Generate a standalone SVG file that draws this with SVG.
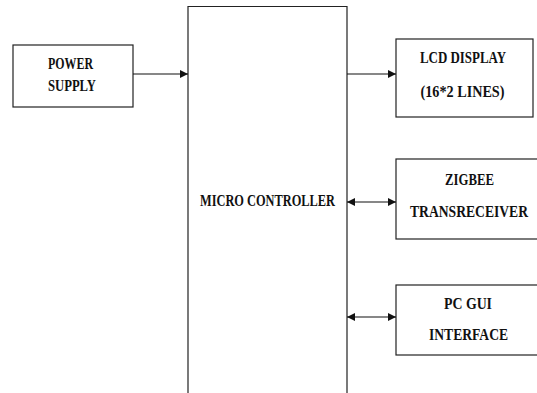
<svg xmlns="http://www.w3.org/2000/svg" width="537" height="393" viewBox="0 0 537 393">
<style>
.box{fill:#fff;stroke:#222;stroke-width:1.2}
.lbl{font-family:"Liberation Serif","Times New Roman",serif;font-weight:bold;font-size:16px;fill:#111;text-anchor:middle}
.con{stroke:#111;stroke-width:1.2;fill:none}
</style>
<defs>
<marker id="ah" viewBox="0 0 10 10" refX="10" refY="5" markerWidth="8" markerHeight="8" markerUnits="userSpaceOnUse" orient="auto-start-reverse">
<path d="M0,0 L10,5 L0,10 z" fill="#111"/>
</marker>
</defs>
<g id="mcu">
<path class="box" d="M188,400 L188,6.5 L347,6.5 L347,400"/>
<text class="lbl" x="267.5" y="206" textLength="135" lengthAdjust="spacingAndGlyphs">MICRO CONTROLLER</text>
</g>
<g id="power">
<rect class="box" x="13" y="45" width="120" height="62"/>
<text class="lbl" x="70.5" y="69" textLength="45" lengthAdjust="spacingAndGlyphs">POWER</text>
<text class="lbl" x="72" y="91" textLength="48" lengthAdjust="spacingAndGlyphs">SUPPLY</text>
</g>
<g id="lcd">
<rect class="box" x="396" y="39" width="137" height="78"/>
<text class="lbl" x="463" y="63" textLength="86" lengthAdjust="spacingAndGlyphs">LCD DISPLAY</text>
<text class="lbl" x="462.5" y="97" textLength="84" lengthAdjust="spacingAndGlyphs">(16*2 LINES)</text>
</g>
<g id="zigbee">
<rect class="box" x="396" y="159" width="145" height="80"/>
<text class="lbl" x="469.5" y="185" textLength="49" lengthAdjust="spacingAndGlyphs">ZIGBEE</text>
<text class="lbl" x="469" y="217" textLength="118" lengthAdjust="spacingAndGlyphs">TRANSRECEIVER</text>
</g>
<g id="pcgui">
<rect class="box" x="396" y="285" width="145" height="70"/>
<text class="lbl" x="468" y="309" textLength="48" lengthAdjust="spacingAndGlyphs">PC GUI</text>
<text class="lbl" x="468.5" y="340" textLength="79" lengthAdjust="spacingAndGlyphs">INTERFACE</text>
</g>
<g id="connectors">
<line class="con" x1="133" y1="74" x2="188" y2="74" marker-end="url(#ah)"/>
<line class="con" x1="347" y1="74" x2="396" y2="74" marker-end="url(#ah)"/>
<line class="con" x1="347" y1="202" x2="396" y2="202" marker-start="url(#ah)" marker-end="url(#ah)"/>
<line class="con" x1="347" y1="317" x2="396" y2="317" marker-start="url(#ah)" marker-end="url(#ah)"/>
</g>
</svg>
